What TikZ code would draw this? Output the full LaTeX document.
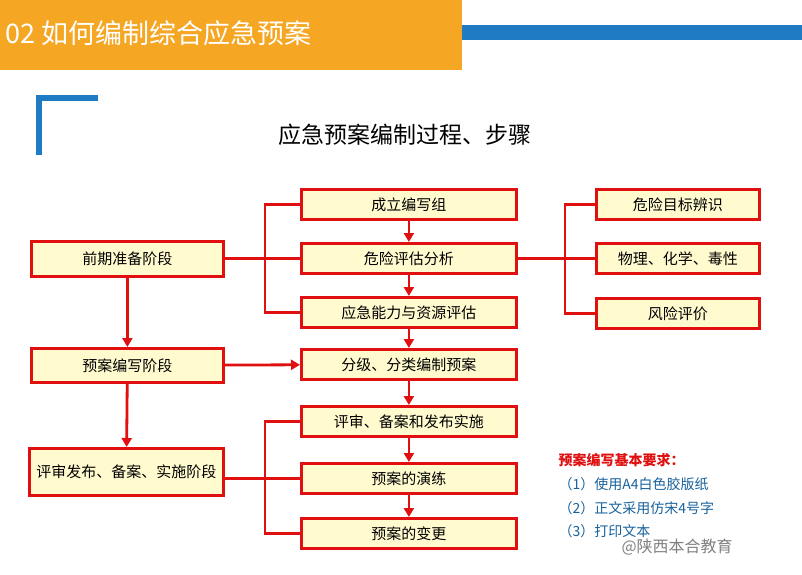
\documentclass[tikz,border=0pt]{standalone}
\usepackage{fontspec}
\setmainfont{Noto Sans CJK SC}
\usetikzlibrary{arrows.meta}
\definecolor{hdr}{HTML}{F5A623}
\definecolor{blu}{HTML}{1E7BC4}
\definecolor{bx}{HTML}{FFFBCF}
\definecolor{rd}{HTML}{E01010}
\begin{document}
\begin{tikzpicture}[x=1pt,y=-1pt,
 box/.style={draw=rd,line width=2.8pt,fill=bx,anchor=north west,inner sep=0pt,font=\fontsize{15}{16}\selectfont,align=center},
 ln/.style={draw=rd,line width=2.8pt},
 ar/.style={ln,-{Triangle[length=9pt,width=10pt]}}]
\useasboundingbox (0,0) rectangle (802,574);
\fill[white] (0,0) rectangle (802,574);
\fill[hdr] (0,0) rectangle (462,70);
\fill[blu] (462,25) rectangle (802,40);
\node[anchor=west,text=white,font=\fontsize{27}{29}\selectfont] (h) at (2,33) {02\ 如何编制综合应急预案};
\draw[blu,line width=6pt] (39,155) -- (39,98) -- (98,98);
\node[font=\fontsize{23}{25}\selectfont] (t) at (405,135) {应急预案编制过程、步骤};
% left
\node[box,minimum width=192pt,minimum height=35pt] (a1) at (30,240) {前期准备阶段};
\node[box,minimum width=192pt,minimum height=34pt] (a2) at (30,347) {预案编写阶段};
\node[box,minimum width=194pt,minimum height=47pt,text width=194pt] (a3) at (28,447) {评审发布、备案、实施阶段};
% middle
\foreach \n/\y/\t in {b1/188/成立编写组,b2/242/危险评估分析,b3/296/应急能力与资源评估,b4/348/分级、分类编制预案,b5/405/评审、备案和发布实施,b6/462/预案的演练,b7/517/预案的变更}
  \node[box,minimum width=215pt,minimum height=30pt] (\n) at (300,\y) {\t};
% right
\foreach \n/\y/\t in {c1/188/危险目标辨识,c2/242/物理、化学、毒性,c3/297/风险评价}
  \node[box,minimum width=163pt,minimum height=30pt] (\n) at (595,\y) {\t};
\draw[ln] (b2.west) -- (b2.west -| a1.east);
\draw[ln] (b1.west) -| (265,258) |- (b3.west);
\draw[ar] (a1) -- (a2);
\draw[ar] (a2) -- (a3);
\draw[ar] (a2) -- (b4);
\draw[ar] (b1) -- (b2);
\draw[ar] (b2) -- (b3);
\draw[ar] (b3) -- (b4);
\draw[ar] (b4) -- (b5);
\draw[ar] (b5) -- (b6);
\draw[ar] (b6) -- (b7);
\draw[ln] (b2.east) -- (c2.west);
\draw[ln] (c1.west) -| (565,257) |- (c3.west);
\draw[ln] (b6.west) -- (b6.west -| a3.east);
\draw[ln] (b5.west) -| (265,470) |- (b7.west);
% requirements
\node[anchor=west,text=rd,font=\bfseries\fontsize{14}{15}\selectfont] (r0) at (555,460) {预案编写基本要求：};
\node[anchor=west,text=blu!80!black,font=\fontsize{14}{15}\selectfont] (r1) at (555,484) {（1）使用A4白色胶版纸};
\node[anchor=west,text=blu!80!black,font=\fontsize{14}{15}\selectfont] (r2) at (555,508) {（2）正文采用仿宋4号字};
\node[anchor=west,text=blu!80!black,font=\fontsize{14}{15}\selectfont] (r3) at (555,531) {（3）打印文本};
\node[anchor=west,text=gray,font=\fontsize{16}{17}\selectfont] (w) at (618,547) {@陕西本合教育};
\end{tikzpicture}
\end{document}
